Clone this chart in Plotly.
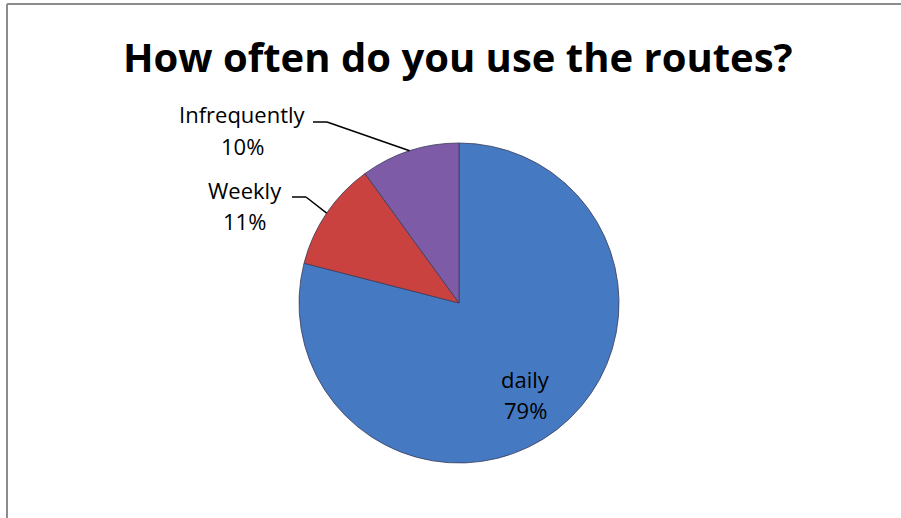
import math
import plotly.graph_objects as go

# Survey answers: how often the routes are used
labels = ["daily", "Weekly", "Infrequently"]
shares = [79, 11, 10]
colors = ["#457AC2", "#C9423F", "#7E5BA7"]

W, H = 901, 518
cx, cy, r = 459, 303, 160  # pie centre and radius in pixels


def px(x):
    return x / W


def py(y):
    return 1 - y / H


fig = go.Figure(
    go.Pie(
        labels=labels,
        values=shares,
        sort=False,
        direction="clockwise",
        rotation=0,
        textinfo="none",
        hoverinfo="label+percent",
        marker=dict(colors=colors, line=dict(color="#3b3b5a", width=0.8)),
        domain=dict(x=[px(cx - r), px(cx + r)], y=[py(cy + r), py(cy - r)]),
        showlegend=False,
    )
)

total = sum(shares)
# angle (deg, clockwise from top) at the middle of each slice
mid_angles = []
acc = 0
for v in shares:
    mid_angles.append((acc + v / 2) / total * 360)
    acc += v

label_font = dict(family="Open Sans, sans-serif", size=22, color="#000000")

# label block anchors in pixels: (x centre, y of name line, y of percent line)
label_pos = {
    "daily": (525, 379, 410),
    "Weekly": (245, 190, 221),
    "Infrequently": (242, 114, 146),
}
elbows = {
    "Weekly": ((292, 197), (306, 197)),
    "Infrequently": ((313, 122), (327, 122)),
}

annotations = []
shapes = []
for lab, v, ang in zip(labels, shares, mid_angles):
    tx, ty1, ty2 = label_pos[lab]
    for txt, ty in [(lab, ty1), (f"{round(v / total * 100)}%", ty2)]:
        annotations.append(
            dict(
                x=px(tx), y=py(ty), xref="paper", yref="paper",
                text=txt, showarrow=False, font=label_font,
                xanchor="center", yanchor="middle",
            )
        )
    if lab in elbows:
        (x0, y0), (x1, y1) = elbows[lab]
        a = math.radians(ang)
        ex = cx + r * math.sin(a)
        ey = cy - r * math.cos(a)
        for (ax, ay, bx, by) in [(x0, y0, x1, y1), (x1, y1, ex, ey)]:
            shapes.append(
                dict(type="line", xref="paper", yref="paper",
                     x0=px(ax), y0=py(ay), x1=px(bx), y1=py(by),
                     line=dict(color="#000000", width=1.5))
            )

# chart frame (top and left edges visible)
frame = dict(color="#8c8c8c", width=2)
shapes.append(dict(type="line", xref="paper", yref="paper",
                   x0=px(7), y0=py(4), x1=1.0, y1=py(4), line=frame))
shapes.append(dict(type="line", xref="paper", yref="paper",
                   x0=px(7), y0=py(4), x1=px(7), y1=0.0, line=frame))

annotations.append(
    dict(
        x=px(458), y=py(56), xref="paper", yref="paper",
        text="<b>How often do you use the routes?</b>",
        showarrow=False, xanchor="center", yanchor="middle",
        font=dict(family="Open Sans, sans-serif", size=40, color="#000000"),
    )
)

fig.update_layout(
    width=W, height=H,
    margin=dict(l=0, r=0, t=0, b=0),
    paper_bgcolor="#ffffff",
    plot_bgcolor="#ffffff",
    annotations=annotations,
    shapes=shapes,
)

fig.write_html("out.html")
